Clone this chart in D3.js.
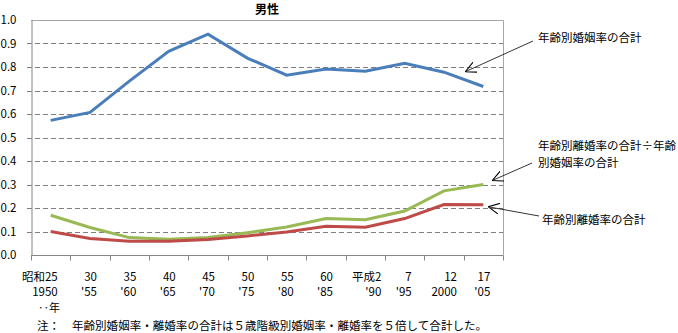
<!DOCTYPE html>
<html>
<head>
<meta charset="utf-8">
<script src="https://cdn.jsdelivr.net/npm/d3@7"></script>
<style>
  body { margin: 0; background: #fff; }
  svg { display: block; font-family: "Noto Sans CJK JP", sans-serif; }
</style>
</head>
<body>
<svg id="chart" width="678" height="333"></svg>
<script>
// era year (top line) and western year (bottom line)
const yearJp = ["昭和25", "30", "35", "40", "45", "50", "55", "60", "平成2", "7", "12", "17"];
const yearWest = ["1950", "'55", "'60", "'65", "'70", "'75", "'80", "'85", "'90", "'95", "2000", "'05"];

// 年齢別婚姻率の合計
const marriageSum = [0.573, 0.607, 0.74, 0.867, 0.94, 0.838, 0.765, 0.791, 0.782, 0.816, 0.778, 0.717];
// 年齢別離婚率の合計
const divorceSum = [0.100, 0.070, 0.058, 0.058, 0.066, 0.081, 0.098, 0.122, 0.118, 0.155, 0.215, 0.214];
// 離婚率の合計 ÷ 婚姻率の合計
const ratioSum = [0.169, 0.117, 0.074, 0.067, 0.074, 0.095, 0.119, 0.155, 0.150, 0.187, 0.273, 0.300];

const yTicks = [0, 0.1, 0.2, 0.3, 0.4, 0.5, 0.6, 0.7, 0.8, 0.9, 1.0];

const svg = d3.select('#chart');
const pLeft = 31, pRight = 503, pTop = 20, pBottom = 255;

const x = d3.scaleBand()
  .domain(d3.range(yearJp.length))
  .range([pLeft, pRight])
  .padding(0);
const xc = i => x(i) + x.bandwidth() / 2;

const y = d3.scaleLinear()
  .domain([0, 1])
  .range([pBottom, pTop]);

// grid lines
svg.append('g')
  .selectAll('line')
  .data(yTicks.filter(d => d > 0 && d < 1))
  .enter().append('line')
  .attr('x1', pLeft - 4)
  .attr('x2', pRight)
  .attr('y1', d => Math.round(y(d)) + 0.5)
  .attr('y2', d => Math.round(y(d)) + 0.5)
  .attr('stroke', '#7f7f7f')
  .attr('stroke-dasharray', '5,3');

// frame: top and right
svg.append('path')
  .attr('d', `M${pLeft},${pTop + 0.5}H${pRight + 0.5}V${pBottom}`)
  .attr('fill', 'none')
  .attr('stroke', '#a6a6a6');

// y axis
const yAxis = svg.append('g')
  .attr('transform', `translate(${pLeft + 0.5},0)`)
  .call(d3.axisLeft(y).tickValues(yTicks).tickFormat(d3.format('.1f')).tickSize(0).tickPadding(15));
yAxis.select('.domain').attr('stroke', '#868686');
yAxis.selectAll('text')
  .attr('fill', '#000')
  .style('font-family', '"Noto Sans CJK JP", sans-serif')
  .style('font-size', '11.5px');

// x axis line and ticks at band edges
const xAxis = svg.append('g')
  .attr('transform', `translate(0,${pBottom + 0.5})`);
xAxis.append('line')
  .attr('x1', pLeft).attr('x2', pRight + 0.5)
  .attr('stroke', '#868686');
xAxis.selectAll('.tk')
  .data(d3.range(yearJp.length + 1))
  .enter().append('line')
  .attr('class', 'tk')
  .attr('x1', i => Math.round(pLeft + i * x.bandwidth()) + 0.5)
  .attr('x2', i => Math.round(pLeft + i * x.bandwidth()) + 0.5)
  .attr('y1', 0).attr('y2', 5)
  .attr('stroke', '#868686');

// x labels (right aligned a little past the band centre, as in the original)
const nudge = i => (i === 8 ? 16 : i === 10 ? 13 : 7);
svg.append('g').selectAll('text')
  .data(yearJp)
  .enter().append('text')
  .attr('x', (d, i) => xc(i) + nudge(i))
  .attr('y', 276)
  .attr('text-anchor', 'end')
  .attr('dominant-baseline', 'central')
  .style('font-size', '11.5px')
  .text(d => d);
svg.append('g').selectAll('text')
  .data(yearWest)
  .enter().append('text')
  .attr('x', (d, i) => xc(i) + nudge(i))
  .attr('y', 291)
  .attr('text-anchor', 'end')
  .attr('dominant-baseline', 'central')
  .style('font-size', '11.5px')
  .text(d => d);
svg.append('text')
  .attr('x', 38).attr('y', 307)
  .attr('dominant-baseline', 'central')
  .style('font-size', '11px')
  .text('‥年');

// lines
const line = d3.line()
  .x((d, i) => xc(i))
  .y(d => y(d));
const series = [
  { values: marriageSum, color: '#4a7ebb' },
  { values: ratioSum, color: '#98b954' },
  { values: divorceSum, color: '#be4b48' }
];
svg.append('g').selectAll('path')
  .data(series)
  .enter().append('path')
  .attr('d', d => line(d.values))
  .attr('fill', 'none')
  .attr('stroke', d => d.color)
  .attr('stroke-width', 3);

// title
svg.append('text')
  .attr('x', (pLeft + pRight) / 2)
  .attr('y', 8)
  .attr('text-anchor', 'middle')
  .attr('dominant-baseline', 'central')
  .style('font-size', '12px')
  .style('font-weight', 'bold')
  .text('男性');

// annotations with open arrowheads
svg.append('defs').append('marker')
  .attr('id', 'arr')
  .attr('viewBox', '0 0 10 10')
  .attr('refX', 10).attr('refY', 5)
  .attr('markerWidth', 11).attr('markerHeight', 11)
  .attr('markerUnits', 'userSpaceOnUse')
  .attr('orient', 'auto')
  .append('path')
  .attr('d', 'M0,0L10,5L0,10')
  .attr('fill', 'none')
  .attr('stroke', '#000')
  .attr('stroke-width', 1);

const last = yearJp.length - 1;
const notes = [
  { from: [533, 41], to: [xc(last) - 18, y(0.78)], lines: ['年齢別婚姻率の合計'], tx: 538, ty: 37 },
  { from: [532, 163], to: [xc(last) + 9, y(0.317)], lines: ['年齢別離婚率の合計÷年齢', '別婚姻率の合計'], tx: 538, ty: 145 },
  { from: [539, 216], to: [xc(last) + 5, y(0.205)], lines: ['年齢別離婚率の合計'], tx: 542, ty: 219 }
];
notes.forEach(n => {
  svg.append('line')
    .attr('x1', n.from[0]).attr('y1', n.from[1])
    .attr('x2', n.to[0]).attr('y2', n.to[1])
    .attr('stroke', '#000')
    .attr('stroke-width', 0.8)
    .attr('marker-end', 'url(#arr)');
  n.lines.forEach((t, k) => {
    svg.append('text')
      .attr('x', n.tx)
      .attr('y', n.ty + k * 17)
      .attr('dominant-baseline', 'central')
      .style('font-size', '11.5px')
      .text(t);
  });
});

// footnote
svg.append('text')
  .attr('x', 37).attr('y', 325)
  .attr('dominant-baseline', 'central')
  .style('font-size', '11.5px')
  .text('注：');
svg.append('text')
  .attr('x', 72).attr('y', 325)
  .attr('dominant-baseline', 'central')
  .style('font-size', '11.5px')
  .attr('textLength', 415)
  .attr('lengthAdjust', 'spacing')
  .text('年齢別婚姻率・離婚率の合計は５歳階級別婚姻率・離婚率を５倍して合計した。');
</script>
</body>
</html>
